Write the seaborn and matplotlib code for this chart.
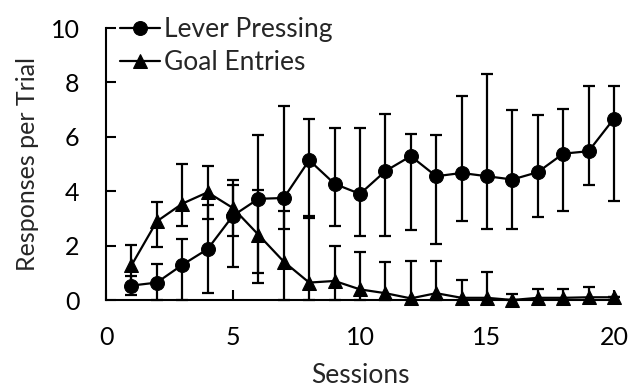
import matplotlib
matplotlib.use("Agg")
import matplotlib.pyplot as plt
import numpy as np
import pandas as pd
import seaborn as sns

sessions = list(range(1, 21))
series_names = ["Lever Pressing", "Goal Entries"]

lever = [0.53, 0.64, 1.29, 1.87, 3.10, 3.72, 3.75, 5.14, 4.27, 3.90,
         4.74, 5.29, 4.55, 4.67, 4.55, 4.43, 4.70, 5.38, 5.47, 6.67]
lever_low = [0.18, 0.00, 0.00, 0.25, 1.23, 0.98, 2.61, 3.10, 2.73, 2.36,
             2.34, 2.56, 2.05, 2.92, 2.62, 2.62, 3.05, 3.26, 4.24, 3.63]
lever_high = [0.89, 1.33, 2.24, 3.49, 4.24, 6.05, 7.13, 6.67, 6.33, 6.33,
              6.85, 6.09, 6.05, 7.50, 8.30, 6.99, 6.79, 7.04, 7.87, 7.87]

goal = [1.27, 2.89, 3.54, 3.96, 3.38, 2.40, 1.41, 0.64, 0.70, 0.39,
        0.25, 0.06, 0.25, 0.08, 0.08, 0.00, 0.08, 0.08, 0.10, 0.10]
goal_low = [0.51, 1.94, 2.73, 2.98, 2.36, 0.61, 0.00, 0.00, 0.00, 0.00,
            0.00, 0.00, 0.00, 0.00, 0.00, 0.00, 0.00, 0.00, 0.00, 0.10]
goal_high = [2.03, 3.60, 5.00, 4.94, 4.40, 4.06, 3.26, 3.00, 1.97, 1.75,
             1.41, 1.45, 1.45, 0.74, 1.04, 0.21, 0.39, 0.39, 0.49, 0.10]

x_ticks = [0, 5, 10, 15, 20]
y_ticks = [0, 2, 4, 6, 8, 10]

sns.set_style("ticks")
plt.rcParams["font.family"] = ["Lato", "DejaVu Sans"]

df = pd.DataFrame({
    "Session": sessions * 2,
    "Value": lever + goal,
    "Measure": [series_names[0]] * len(sessions) + [series_names[1]] * len(sessions),
})

fig = plt.figure(figsize=(6.29, 3.88), dpi=100)
ax = fig.add_axes([106 / 629, 1 - 300 / 388, (614 - 106) / 629, (300 - 28) / 388])

# error bars
for vals, lo, hi in [(lever, lever_low, lever_high), (goal, goal_low, goal_high)]:
    v = np.array(vals)
    yerr = [v - np.array(lo), np.array(hi) - v]
    ax.errorbar(sessions, v, yerr=yerr, fmt="none", ecolor="black",
                elinewidth=1.6, capsize=4, capthick=1.6, clip_on=False, zorder=2)

sns.lineplot(data=df, x="Session", y="Value", style="Measure",
             style_order=series_names,
             markers={series_names[0]: "o", series_names[1]: "^"},
             dashes=False, color="black", linewidth=1.6, markersize=10,
             markeredgecolor="black", ax=ax, zorder=3)
for ln in ax.lines:
    ln.set_clip_on(False)

ax.set_xlim(0, 20)
ax.set_ylim(0, 10)
ax.set_xticks(x_ticks)
ax.set_yticks(y_ticks)
ax.tick_params(direction="in", length=7, width=1.5, pad=19, labelsize=18, colors="black")
for s in ["left", "bottom"]:
    ax.spines[s].set_linewidth(1.5)
    ax.spines[s].set_color("black")
sns.despine(ax=ax)

ax.set_xlabel("Sessions", fontsize=19, labelpad=10)
ax.set_ylabel("Responses per Trial", fontsize=18, labelpad=8)

handles, labels = ax.get_legend_handles_labels()
ax.legend(handles, labels, loc="upper left",
          bbox_to_anchor=(120 / 629, 1 - 17 / 388), bbox_transform=fig.transFigure,
          frameon=False, borderpad=0, borderaxespad=0, handlelength=1.5,
          handletextpad=0.15, labelspacing=0.3, fontsize=19)

fig.savefig("out.png", dpi=100)
